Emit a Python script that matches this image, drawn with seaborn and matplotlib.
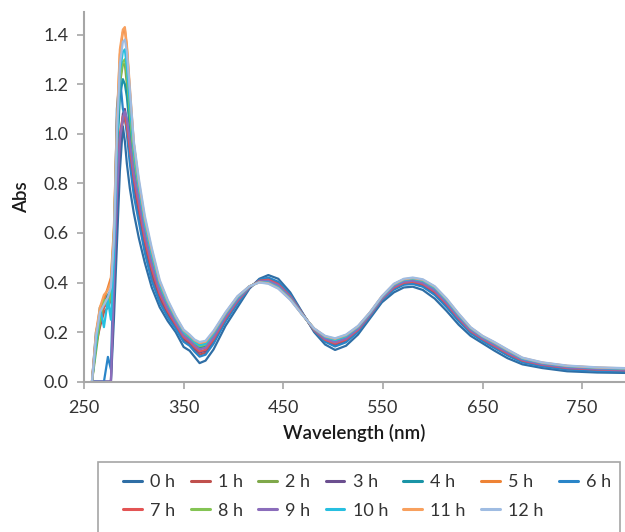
import matplotlib
matplotlib.use("Agg")
import matplotlib.pyplot as plt
from matplotlib.patches import Rectangle
import seaborn as sns
import pandas as pd

wavelength = [258, 262, 266, 270, 274, 277, 280, 283, 286, 289, 291, 293, 296, 300,
              305, 311, 318, 326, 334, 342, 350, 356, 361, 366, 372,
              380, 392, 404, 416, 426, 435, 445, 457, 469, 481, 492, 502, 513, 525,
              537, 549, 561, 571, 580, 590, 602, 614, 626, 638, 650, 662, 675, 690,
              710, 735, 765, 800]

abs_0h = [0, 0, 0, 0, 0, 0, 0.25, 0.55, 0.85, 1.03, 0.97, 0.88, 0.78, 0.68,
          0.58, 0.48, 0.38, 0.30, 0.245, 0.20, 0.14, 0.125, 0.10, 0.075, 0.085, 0.13, 0.225, 0.30, 0.375, 0.415, 0.43, 0.415, 0.36, 0.28, 0.20, 0.15, 0.128, 0.145, 0.19, 0.255, 0.32, 0.36, 0.38, 0.383, 0.37, 0.335, 0.285, 0.23, 0.185, 0.155, 0.125, 0.095, 0.07, 0.055, 0.042, 0.037, 0.035]
abs_1h = [0, 0.15, 0.22, 0.28, 0.30, 0.33, 0.45, 0.75, 0.98, 1.05, 1.06, 1.02, 0.92, 0.79,
          0.67, 0.541, 0.426, 0.332, 0.27, 0.22, 0.168, 0.151, 0.128, 0.109, 0.117, 0.16, 0.247, 0.318, 0.379, 0.409, 0.416, 0.399, 0.348, 0.276, 0.206, 0.164, 0.147, 0.163, 0.204, 0.265, 0.33, 0.374, 0.394, 0.398, 0.387, 0.355, 0.305, 0.248, 0.199, 0.167, 0.139, 0.109, 0.081, 0.064, 0.051, 0.045, 0.043]
abs_2h = [0, 0.12, 0.24, 0.30, 0.33, 0.36, 0.55, 0.95, 1.20, 1.28, 1.28, 1.20, 1.05, 0.87,
          0.745, 0.606, 0.483, 0.371, 0.30, 0.243, 0.189, 0.171, 0.149, 0.135, 0.141, 0.183, 0.264, 0.332, 0.382, 0.405, 0.406, 0.387, 0.339, 0.273, 0.211, 0.175, 0.161, 0.177, 0.215, 0.273, 0.338, 0.385, 0.405, 0.409, 0.40, 0.37, 0.32, 0.262, 0.21, 0.176, 0.15, 0.12, 0.089, 0.071, 0.058, 0.052, 0.048]
abs_3h = [0, 0, 0, 0, 0, 0, 0.35, 0.70, 0.95, 1.08, 1.10, 1.05, 0.93, 0.80,
          0.695, 0.563, 0.445, 0.345, 0.28, 0.228, 0.175, 0.158, 0.135, 0.118, 0.125, 0.168, 0.253, 0.323, 0.38, 0.408, 0.413, 0.395, 0.345, 0.275, 0.208, 0.168, 0.152, 0.168, 0.208, 0.268, 0.333, 0.378, 0.398, 0.402, 0.392, 0.36, 0.31, 0.253, 0.203, 0.17, 0.143, 0.113, 0.084, 0.067, 0.054, 0.048, 0.045]
abs_4h = [0, 0.20, 0.27, 0.33, 0.35, 0.37, 0.52, 0.90, 1.15, 1.22, 1.20, 1.15, 1.02, 0.87,
          0.758, 0.616, 0.493, 0.378, 0.305, 0.246, 0.193, 0.174, 0.153, 0.139, 0.145, 0.186, 0.266, 0.334, 0.383, 0.404, 0.404, 0.385, 0.338, 0.273, 0.211, 0.176, 0.163, 0.179, 0.216, 0.274, 0.339, 0.386, 0.406, 0.411, 0.402, 0.373, 0.323, 0.264, 0.211, 0.178, 0.151, 0.121, 0.09, 0.072, 0.059, 0.053, 0.049]
abs_5h = [0, 0.18, 0.30, 0.33, 0.38, 0.42, 0.62, 1.05, 1.32, 1.41, 1.42, 1.35, 1.17, 0.96,
          0.795, 0.649, 0.521, 0.397, 0.32, 0.258, 0.203, 0.184, 0.163, 0.152, 0.157, 0.198, 0.275, 0.341, 0.384, 0.402, 0.399, 0.379, 0.333, 0.271, 0.214, 0.182, 0.17, 0.186, 0.222, 0.278, 0.343, 0.392, 0.412, 0.416, 0.409, 0.38, 0.33, 0.271, 0.217, 0.182, 0.157, 0.127, 0.094, 0.076, 0.063, 0.056, 0.052]
abs_6h = [0, 0, 0, 0, 0.10, 0.05, 0.50, 1.10, 1.23, 1.10, 1.07, 1.00, 0.88, 0.75,
          0.645, 0.52, 0.407, 0.319, 0.26, 0.213, 0.161, 0.145, 0.121, 0.101, 0.109, 0.153, 0.242, 0.314, 0.378, 0.411, 0.42, 0.403, 0.351, 0.277, 0.205, 0.161, 0.142, 0.159, 0.201, 0.263, 0.328, 0.371, 0.391, 0.394, 0.383, 0.35, 0.30, 0.244, 0.196, 0.164, 0.136, 0.106, 0.078, 0.062, 0.049, 0.043, 0.041]
abs_7h = [0, 0.18, 0.25, 0.30, 0.32, 0.35, 0.50, 0.80, 1.00, 1.07, 1.07, 1.03, 0.94, 0.82,
          0.708, 0.573, 0.455, 0.352, 0.285, 0.231, 0.179, 0.161, 0.139, 0.122, 0.129, 0.171, 0.255, 0.325, 0.381, 0.407, 0.411, 0.393, 0.344, 0.275, 0.208, 0.169, 0.154, 0.17, 0.209, 0.269, 0.334, 0.379, 0.399, 0.403, 0.394, 0.363, 0.313, 0.255, 0.204, 0.172, 0.144, 0.114, 0.085, 0.068, 0.055, 0.049, 0.045]
abs_8h = [0, 0.15, 0.25, 0.33, 0.30, 0.35, 0.60, 1.00, 1.22, 1.29, 1.30, 1.24, 1.08, 0.90,
          0.77, 0.627, 0.502, 0.384, 0.31, 0.25, 0.196, 0.177, 0.156, 0.143, 0.149, 0.19, 0.269, 0.336, 0.383, 0.403, 0.402, 0.383, 0.336, 0.272, 0.212, 0.178, 0.166, 0.181, 0.218, 0.275, 0.34, 0.388, 0.408, 0.413, 0.404, 0.375, 0.325, 0.266, 0.213, 0.179, 0.153, 0.123, 0.092, 0.073, 0.06, 0.054, 0.05]
abs_9h = [0, 0, 0, 0, 0, 0, 0.40, 0.75, 0.98, 1.06, 1.09, 1.06, 0.97, 0.84,
          0.733, 0.595, 0.474, 0.365, 0.295, 0.239, 0.186, 0.167, 0.146, 0.13, 0.137, 0.179, 0.261, 0.329, 0.382, 0.405, 0.407, 0.389, 0.341, 0.274, 0.21, 0.173, 0.159, 0.174, 0.213, 0.271, 0.336, 0.383, 0.403, 0.407, 0.398, 0.368, 0.318, 0.259, 0.208, 0.175, 0.148, 0.118, 0.088, 0.07, 0.057, 0.051, 0.047]
abs_10h = [0, 0.15, 0.30, 0.22, 0.33, 0.25, 0.50, 0.95, 1.25, 1.33, 1.34, 1.27, 1.12, 0.93,
           0.783, 0.638, 0.512, 0.391, 0.315, 0.254, 0.20, 0.18, 0.16, 0.147, 0.153, 0.194, 0.272, 0.338, 0.384, 0.402, 0.40, 0.381, 0.335, 0.272, 0.213, 0.18, 0.168, 0.183, 0.22, 0.276, 0.341, 0.39, 0.41, 0.415, 0.407, 0.378, 0.328, 0.268, 0.215, 0.181, 0.155, 0.125, 0.093, 0.075, 0.062, 0.055, 0.051]
abs_11h = [0, 0.20, 0.30, 0.35, 0.37, 0.40, 0.60, 1.05, 1.34, 1.42, 1.43, 1.36, 1.19, 0.96,
           0.808, 0.659, 0.531, 0.404, 0.325, 0.261, 0.207, 0.187, 0.167, 0.156, 0.161, 0.201, 0.277, 0.343, 0.385, 0.401, 0.397, 0.377, 0.332, 0.271, 0.214, 0.183, 0.173, 0.188, 0.223, 0.279, 0.344, 0.393, 0.413, 0.418, 0.411, 0.383, 0.333, 0.273, 0.218, 0.184, 0.158, 0.128, 0.096, 0.077, 0.064, 0.057, 0.053]
abs_12h = [0, 0.18, 0.28, 0.31, 0.34, 0.38, 0.58, 1.00, 1.28, 1.37, 1.38, 1.33, 1.18, 0.97,
           0.82, 0.67, 0.54, 0.41, 0.33, 0.265, 0.21, 0.19, 0.17, 0.16, 0.165, 0.205, 0.28, 0.345, 0.385, 0.40, 0.395, 0.375, 0.33, 0.27, 0.215, 0.185, 0.175, 0.19, 0.225, 0.28, 0.345, 0.395, 0.415, 0.42, 0.413, 0.385, 0.335, 0.275, 0.22, 0.185, 0.16, 0.13, 0.097, 0.078, 0.065, 0.058, 0.054]

series_labels = ["0 h", "1 h", "2 h", "3 h", "4 h", "5 h", "6 h",
                 "7 h", "8 h", "9 h", "10 h", "11 h", "12 h"]
series_values = [abs_0h, abs_1h, abs_2h, abs_3h, abs_4h, abs_5h, abs_6h,
                 abs_7h, abs_8h, abs_9h, abs_10h, abs_11h, abs_12h]
series_colors = ["#2F6EA5", "#C0504D", "#7FA84A", "#6B4F8F", "#1A94A6", "#EE8335", "#2A85C8",
                 "#E35454", "#84C454", "#8B6DBB", "#27BFE0", "#F8A05E", "#9FBCE2"]

x_ticks = [250, 350, 450, 550, 650, 750]
y_ticks = [0.0, 0.2, 0.4, 0.6, 0.8, 1.0, 1.2, 1.4]

rows = []
for lab, vals in zip(series_labels, series_values):
    for w, v in zip(wavelength, vals):
        rows.append({"Wavelength": w, "Abs": v, "Series": lab})
df = pd.DataFrame(rows)

sns.set_style("white")
plt.rcParams["font.family"] = ["Lato", "DejaVu Sans"]

W, H = 625, 532
fig = plt.figure(figsize=(W / 100, H / 100), dpi=100)
ax = fig.add_axes([84 / W, 1 - 381.7 / H, 541 / W, 369.5 / H])

sns.lineplot(data=df, x="Wavelength", y="Abs", hue="Series", hue_order=series_labels,
             palette=series_colors, sort=False, estimator=None, linewidth=1.6, ax=ax)

ax.set_xlim(250, 793)
ax.set_ylim(0, 1.49)
ax.set_xticks(x_ticks)
ax.set_yticks(y_ticks)
ax.set_yticklabels([f"{t:.1f}" for t in y_ticks])
ax.set_xlabel("Wavelength (nm)", fontsize=13.5, fontweight="semibold", color="#1a1a1a", labelpad=6)
ax.set_ylabel("Abs", fontsize=13.5, fontweight="semibold", color="#1a1a1a", labelpad=10)

for s in ["top", "right"]:
    ax.spines[s].set_visible(False)
for s in ["left", "bottom"]:
    ax.spines[s].set_color("#A6A6A6")
    ax.spines[s].set_linewidth(1.5)
ax.tick_params(axis="both", which="major", direction="out", length=5, width=1.2,
               color="#A6A6A6", labelsize=13, labelcolor="#333333", pad=6, bottom=True, left=True)
ax.tick_params(axis="x", pad=8)

handles, labels = ax.get_legend_handles_labels()
ax.get_legend().remove()
order = [0, 7, 1, 8, 2, 9, 3, 10, 4, 11, 5, 12, 6]
leg = fig.legend([handles[i] for i in order], [labels[i] for i in order],
                 ncol=7, loc="upper left", bbox_to_anchor=(123 / W, 1 - 474 / H),
                 bbox_transform=fig.transFigure, frameon=False,
                 fontsize=13, handlelength=1.05, handletextpad=0.45, columnspacing=0.85,
                 labelspacing=0.7, borderpad=0, borderaxespad=0)
for t in leg.get_texts():
    t.set_color("#333333")
for h in leg.legend_handles:
    h.set_linewidth(2.2)

frame = Rectangle((98 / W, -0.05), (620 - 98) / W, (532 - 462) / H + 0.05,
                  transform=fig.transFigure, fill=False, edgecolor="#A6A6A6",
                  linewidth=1.2, clip_on=False)
fig.patches.append(frame)

fig.savefig("out.png", dpi=100)
